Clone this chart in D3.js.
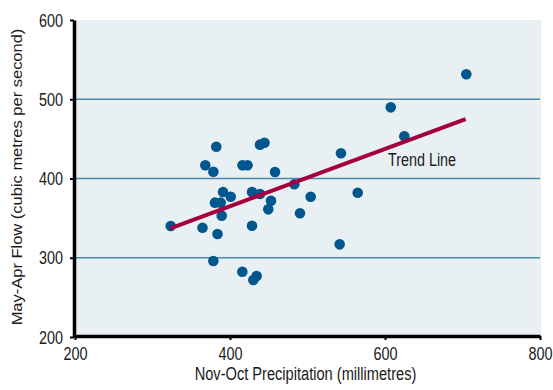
<!DOCTYPE html>
<html>
<head>
<meta charset="utf-8">
<script src="https://cdn.jsdelivr.net/npm/d3@7"></script>
<style>
  body { margin: 0; background: #fff; }
  svg text { font-family: "Liberation Sans", Arial, sans-serif; fill: #1a1a1a; }
</style>
</head>
<body>
<svg width="553" height="390"></svg>
<script>
// precipitation (mm) vs flow (m3/s)
const precip = [323.5, 364.5, 383.9, 378.5, 415.9, 434.4, 430.1, 428.4, 389.3, 380.6,
    388.0, 391.0, 400.9, 428.4, 438.7, 452.9, 449.4, 483.0, 504.1, 490.3,
    382.3, 368.1, 378.5, 416.1, 422.6, 438.7, 444.5, 458.1, 543.2, 564.8,
    541.5, 607.4, 624.9, 704.9];
const flow = [340.0, 337.9, 330.0, 295.9, 282.4, 277.0, 271.9, 340.4, 353.1, 369.5,
    369.5, 383.0, 377.0, 383.0, 380.4, 372.0, 361.1, 392.7, 377.0, 356.1,
    440.1, 416.7, 408.6, 416.7, 416.7, 442.7, 445.2, 408.2, 431.8, 382.1,
    316.9, 489.8, 453.3, 531.5];
const trendX = [323, 704];
const trendY = [337, 475];
const xTicks = [200, 400, 600, 800];
const yTicks = [200, 300, 400, 500, 600];
const gridTicks = [300, 400, 500];

const margin = ({ top: 20, right: 13, bottom: 53, left: 75 })
    , width = 553
    , height = 390
    , squeeze = 0.76; // the original art is narrowed horizontally

const svg = d3.select("svg");

const x = d3.scaleLinear()
    .domain([200, 800])
    .range([margin.left, width - margin.right]);

const y = d3.scaleLinear()
    .domain([200, 600])
    .range([height - margin.bottom, margin.top]);

svg.append("rect")
    .attr("x", x(200))
    .attr("y", y(600))
    .attr("width", x(800) - x(200) + 1)
    .attr("height", y(200) - y(600))
    .attr("fill", "#e8f0f3");

svg.append("g")
    .selectAll("line").data(gridTicks).enter().append("line")
    .attr("x1", x(200))
    .attr("x2", x(800))
    .attr("y1", d => y(d))
    .attr("y2", d => y(d))
    .attr("stroke", "#4b88ad")
    .attr("stroke-width", 1.5);

svg.append("g")
    .selectAll("circle").data(precip).enter().append("circle")
    .attr("cx", d => x(d))
    .attr("cy", (d, i) => y(flow[i]))
    .attr("r", 5.3)
    .attr("fill", "#00578e");

svg.append("line")
    .attr("x1", x(trendX[0]))
    .attr("y1", y(trendY[0]))
    .attr("x2", x(trendX[1]))
    .attr("y2", y(trendY[1]))
    .attr("stroke", "#a5003e")
    .attr("stroke-width", 4);

svg.append("text")
    .attr("transform", `translate(388,166) scale(0.82,1)`)
    .attr("font-size", 17.5)
    .text("Trend Line");

const xAxis = g => g
    .attr("transform", `translate(0,${y(200) - 1})`)
    .call(d3.axisBottom(x).tickValues(xTicks).tickSize(4).tickPadding(7).tickSizeOuter(0))
    .call(g => g.select(".domain").attr("stroke", "#000").attr("stroke-width", 3.5))
    .call(g => g.selectAll(".tick line").attr("stroke", "#000").attr("stroke-width", 2))
    .call(g => g.selectAll(".tick text")
        .attr("font-size", 19).attr("font-family", null)
        .attr("transform", `scale(${squeeze},1)`));

const yAxis = g => g
    .attr("transform", `translate(${x(200) - 1},0)`)
    .call(d3.axisLeft(y).tickValues(yTicks).tickSize(4).tickPadding(7).tickSizeOuter(0))
    .call(g => g.select(".domain").attr("stroke", "#000").attr("stroke-width", 3.5))
    .call(g => g.selectAll(".tick line").attr("stroke", "#000").attr("stroke-width", 2))
    .call(g => g.selectAll(".tick text")
        .attr("font-size", 19).attr("font-family", null)
        .attr("x", -11 / squeeze)
        .attr("transform", `scale(${squeeze},1)`));

svg.append("g").call(xAxis);
svg.append("g").call(yAxis);

svg.append("text")
    .attr("transform", `translate(${(x(200) + x(800)) / 2 - 2},380) scale(0.77,1)`)
    .attr("text-anchor", "middle")
    .attr("font-size", 19)
    .text("Nov-Oct Precipitation (millimetres)");

svg.append("text")
    .attr("transform", `translate(22,177) scale(0.84,1) rotate(-90)`)
    .attr("text-anchor", "middle")
    .attr("font-size", 16.5)
    .text("May-Apr Flow (cubic metres per second)");
</script>
</body>
</html>
